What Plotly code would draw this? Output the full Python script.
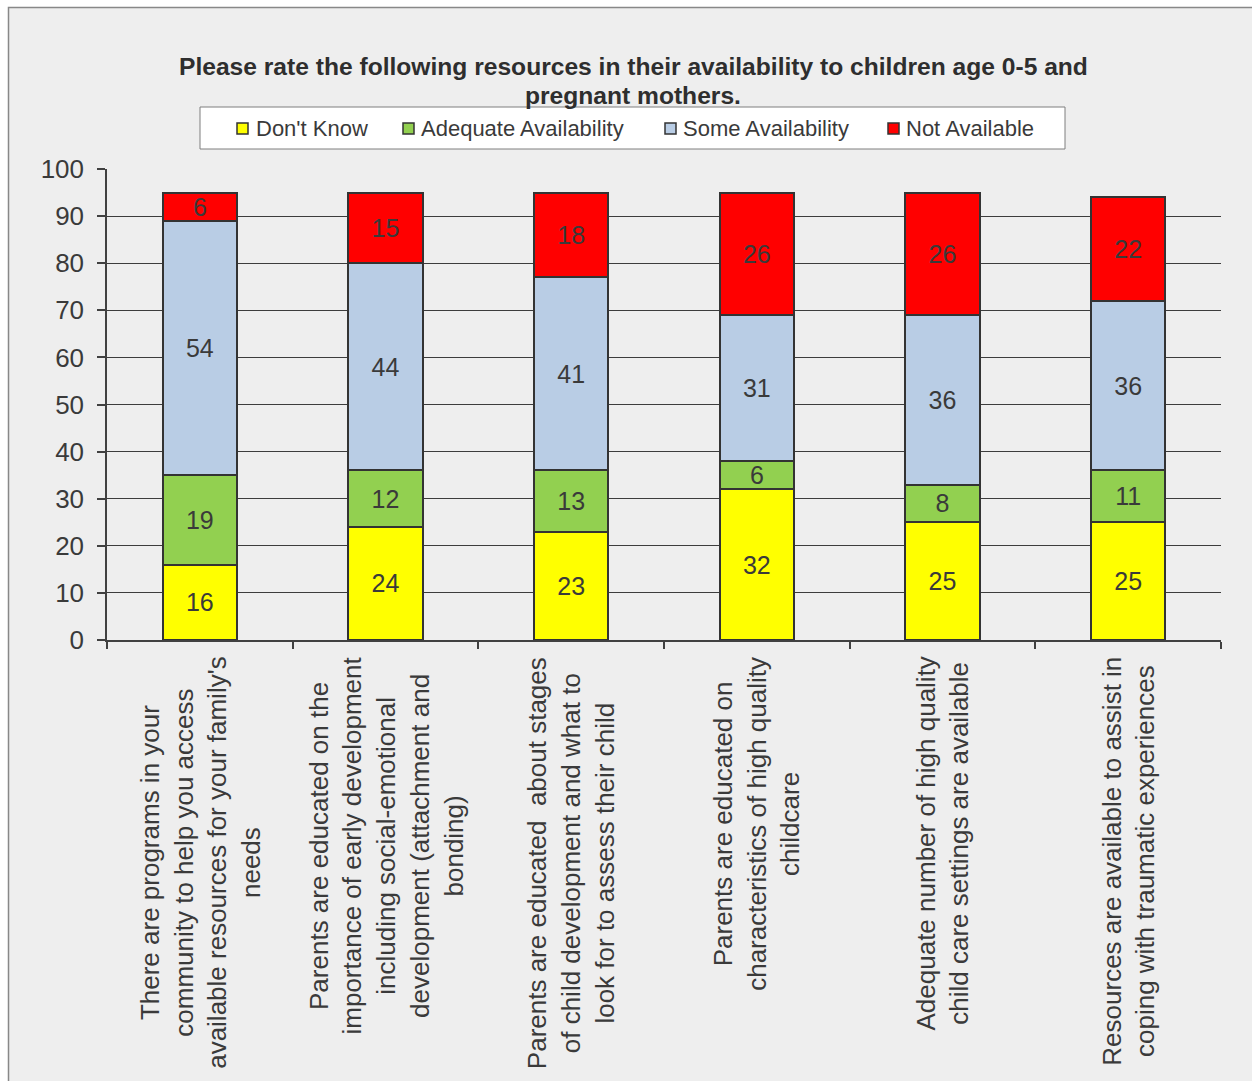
import plotly.graph_objects as go

# Survey items (x categories), line breaks as they wrap under the axis
categories = [
    "There are programs in your<br>community to help you access<br>available resources for your family's<br>needs",
    "Parents are educated on the<br>importance of early development<br>including social-emotional<br>development (attachment and<br>bonding)",
    "Parents are educated  about stages<br>of child development and what to<br>look for to assess their child",
    "Parents are educated on<br>characteristics of high quality<br>childcare",
    "Adequate number of high quality<br>child care settings are available",
    "Resources are available to assist in<br>coping with traumatic experiences",
]

series_names = ["Don't Know", "Adequate Availability", "Some Availability", "Not Available"]
dont_know = [16, 24, 23, 32, 25, 25]
adequate = [19, 12, 13, 6, 8, 11]
some = [54, 44, 41, 31, 36, 36]
not_available = [6, 15, 18, 26, 26, 22]

y_ticks = [0, 10, 20, 30, 40, 50, 60, 70, 80, 90, 100]

title_lines = [
    "Please rate the following resources in their availability to children age 0-5 and",
    "pregnant mothers.",
]

colors = ["#FFFF00", "#92D050", "#B9CDE5", "#FF0000"]
series_values = [dont_know, adequate, some, not_available]

W, H = 1252, 1081
L, R, T, B = 107, 31, 169, 441
PW, PH = W - L - R, H - T - B


def px_x(px):
    return (px - L) / PW


def px_y(py):
    return (T + PH - py) / PH


TEXT = "#3a3a3a"
FONT = "Liberation Sans, Arial, sans-serif"

fig = go.Figure()
for name, vals, col in zip(series_names, series_values, colors):
    fig.add_trace(go.Bar(
        name=name,
        x=categories,
        y=vals,
        marker=dict(color=col, line=dict(color="#333333", width=2)),
        width=0.4,
        texttemplate="%{y}",
        textposition="inside",
        insidetextanchor="middle",
        textangle=0,
        textfont=dict(size=25, color=TEXT, family=FONT),
        showlegend=False,
    ))

shapes = [
    # chart frame (only the top and left edges fall inside the page)
    dict(type="rect", xref="paper", yref="paper", layer="below",
         x0=px_x(8.5), x1=px_x(1300), y0=px_y(1250), y1=px_y(7.5),
         fillcolor="#EEEEEE", line=dict(color="#888888", width=1.5)),
    # legend box
    dict(type="rect", xref="paper", yref="paper", layer="above",
         x0=px_x(200), x1=px_x(1065), y0=px_y(149), y1=px_y(107),
         fillcolor="#FFFFFF", line=dict(color="#7F7F7F", width=1)),
]

annotations = []
# title, two lines
for text, yc in zip(title_lines, [66, 95]):
    annotations.append(dict(
        text=text, xref="paper", yref="paper", x=px_x(633), y=px_y(yc),
        xanchor="center", yanchor="middle", showarrow=False,
        font=dict(size=24.6, color="#2e2e2e",
                  family="Liberation Sans Narrow, Arial Narrow, Liberation Sans, Arial",
                  weight="bold"),
    ))

# legend entries
legend_sq_x = [237, 403, 665, 888]
legend_txt_x = [254, 419, 681, 904]
for name, col, sx, tx in zip(series_names, colors, legend_sq_x, legend_txt_x):
    shapes.append(dict(type="rect", xref="paper", yref="paper", layer="above",
                       x0=px_x(sx), x1=px_x(sx + 11), y0=px_y(134), y1=px_y(123),
                       fillcolor=col, line=dict(color="#333333", width=1.5)))
    annotations.append(dict(
        text=name, xref="paper", yref="paper", x=px_x(tx), y=px_y(128.5),
        xanchor="left", yanchor="middle", showarrow=False,
        font=dict(size=22, color=TEXT, family=FONT),
    ))

# rotated category labels below the axis
for cat in categories:
    annotations.append(dict(
        text=cat, xref="x", yref="y", x=cat, y=0,
        xanchor="center", yanchor="top", yshift=-15,
        textangle=-90, align="center", showarrow=False,
        font=dict(size=26, color=TEXT, family=FONT),
    ))

fig.update_layout(
    width=W, height=H, autosize=False,
    margin=dict(l=L, r=R, t=T, b=B, pad=0),
    barmode="stack",
    paper_bgcolor="#FFFFFF",
    plot_bgcolor="rgba(0,0,0,0)",
    showlegend=False,
    uniformtext=dict(minsize=25, mode="show"),
    shapes=shapes,
    annotations=annotations,
    font=dict(family=FONT, color=TEXT),
)

fig.update_xaxes(
    showticklabels=False, showgrid=False, zeroline=False,
    showline=True, linecolor="#404040", linewidth=1.5,
    ticks="outside", ticklen=7, tickcolor="#404040", tickwidth=1.5,
    tickson="boundaries",
)
fig.update_yaxes(
    range=[0, 100], tickvals=y_ticks, ticktext=[str(v) for v in y_ticks],
    showgrid=True, gridcolor="#3c3c3c", gridwidth=1, zeroline=False,
    showline=True, linecolor="#404040", linewidth=1.5,
    ticks="outside", ticklen=8, tickcolor="#404040", tickwidth=1.5,
    tickfont=dict(size=26, color=TEXT, family=FONT),
    ticklabelstandoff=8,
)

fig.write_html("out.html")
